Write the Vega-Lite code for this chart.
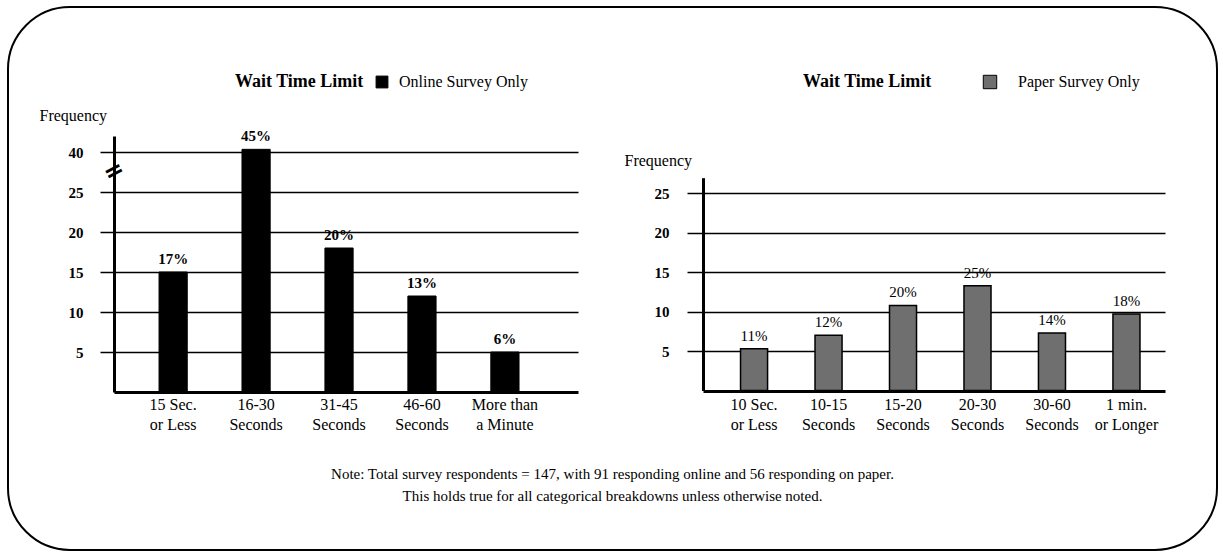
{
  "$schema": "https://vega.github.io/schema/vega-lite/v6.json",
  "width": 1209,
  "height": 543,
  "autosize": {"type": "none"},
  "padding": {"left": 8, "top": 7, "right": 6, "bottom": 3},
  "background": "white",
  "view": {"stroke": "black", "strokeWidth": 2, "cornerRadius": 62, "fill": "white"},
  "title": {
    "text": ["Note:  Total survey respondents = 147, with 91 responding online and 56 responding on paper.", "This holds true for all categorical breakdowns unless otherwise noted."],
    "orient": "bottom",
    "frame": "group",
    "anchor": "middle",
    "offset": -83,
    "baseline": "top",
    "font": "Liberation Serif",
    "fontSize": 15,
    "fontWeight": "normal",
    "lineHeight": 22,
    "color": "black"
  },
  "datasets": {
    "online": [
      {"wait": "15 Sec.\nor Less", "frequency": 15, "pct": "17%", "survey": "Online Survey  Only"},
      {"wait": "16-30\nSeconds", "frequency": 41, "pct": "45%", "survey": "Online Survey  Only"},
      {"wait": "31-45\nSeconds", "frequency": 18, "pct": "20%", "survey": "Online Survey  Only"},
      {"wait": "46-60\nSeconds", "frequency": 12, "pct": "13%", "survey": "Online Survey  Only"},
      {"wait": "More than\na Minute", "frequency": 5, "pct": "6%", "survey": "Online Survey  Only"}
    ],
    "paper": [
      {"wait": "10 Sec.\nor Less", "frequency": 5.3, "pct": "11%", "survey": "Paper Survey  Only"},
      {"wait": "10-15\nSeconds", "frequency": 7, "pct": "12%", "survey": "Paper Survey  Only"},
      {"wait": "15-20\nSeconds", "frequency": 10.8, "pct": "20%", "survey": "Paper Survey  Only"},
      {"wait": "20-30\nSeconds", "frequency": 13.3, "pct": "25%", "survey": "Paper Survey  Only"},
      {"wait": "30-60\nSeconds", "frequency": 7.3, "pct": "14%", "survey": "Paper Survey  Only"},
      {"wait": "1 min.\nor Longer", "frequency": 9.7, "pct": "18%", "survey": "Paper Survey  Only"}
    ],
    "axisbreak": [
      {"at": "15 Sec.\nor Less", "frequency": 32.5, "symbol": "="}
    ]
  },
  "layer": [
    {
      "data": {"name": "online"},
      "encoding": {
        "x": {
          "field": "wait", "type": "nominal",
          "scale": {
            "domain": ["15 Sec.\nor Less", "16-30\nSeconds", "31-45\nSeconds", "46-60\nSeconds", "More than\na Minute"],
            "range": [106, 570], "paddingInner": 0.66, "paddingOuter": 0.627, "align": 0.433
          },
          "axis": {
            "orient": "bottom", "offset": -158, "title": null, "ticks": false, "grid": false,
            "labelAngle": 0, "labelExpr": "split(datum.label, '\\n')", "labelLineHeight": 20,
            "labelFontSize": 16, "labelPadding": 4, "labelBaseline": "top",
            "domainWidth": 3, "domainColor": "black", "labelColor": "black"
          }
        },
        "y": {
          "field": "frequency", "type": "quantitative",
          "scale": {"domain": [0, 25, 40, 46], "range": [385, 185, 145, 129], "nice": false, "zero": false},
          "axis": {
            "orient": "left", "offset": -106, "values": [5, 10, 15, 20, 25, 40],
            "title": "Frequency", "titleAngle": 0, "titleX": -75, "titleY": 108, "titleAlign": "left", "titleBaseline": "middle",
            "titleFontSize": 16, "titleFontWeight": "normal", "titleColor": "black",
            "tickSize": 14, "tickWidth": 1.5, "tickColor": "black",
            "grid": true, "gridColor": "black", "gridWidth": 1.5, "gridOpacity": 1,
            "domainWidth": 3, "domainColor": "black",
            "labelFontSize": 15, "labelFontWeight": "bold", "labelPadding": 17, "labelColor": "black"
          }
        }
      },
      "layer": [
        {
          "mark": {"type": "bar", "stroke": "black", "strokeWidth": 1},
          "encoding": {
            "fill": {
              "field": "survey", "type": "nominal",
              "scale": {"domain": ["Online Survey  Only"], "range": ["black"]},
              "legend": {
                "title": "Wait Time Limit", "orient": "none", "legendX": 227, "legendY": 67,
                "titleOrient": "left", "direction": "horizontal", "titlePadding": 10,
                "titleFont": "Liberation Serif", "titleFontSize": 18, "titleFontWeight": "bold", "titleColor": "black",
                "symbolType": "square", "symbolSize": 140, "symbolStrokeColor": "black", "symbolStrokeWidth": 1,
                "labelFont": "Liberation Serif", "labelFontSize": 16, "labelOffset": 9, "labelColor": "black"
              }
            }
          }
        },
        {
          "mark": {"type": "text", "baseline": "bottom", "align": "center", "dy": -5, "fontSize": 15, "font": "Liberation Serif", "fontWeight": "bold", "color": "black"},
          "encoding": {"text": {"field": "pct", "type": "nominal"}}
        },
        {
          "data": {"name": "axisbreak"},
          "mark": {"type": "text", "align": "center", "baseline": "middle", "dx": -52, "dy": -28, "angle": -28, "fontSize": 24, "font": "DejaVu Sans", "fontWeight": "bold", "color": "black"},
          "encoding": {
            "x": {"field": "at", "type": "nominal"},
            "y": {"field": "frequency", "type": "quantitative"},
            "text": {"field": "symbol", "type": "nominal"}
          }
        }
      ]
    },
    {
      "data": {"name": "paper"},
      "encoding": {
        "x": {
          "field": "wait", "type": "nominal",
          "scale": {
            "domain": ["10 Sec.\nor Less", "10-15\nSeconds", "15-20\nSeconds", "20-30\nSeconds", "30-60\nSeconds", "1 min.\nor Longer"],
            "range": [695, 1157], "paddingInner": 0.637, "paddingOuter": 0.42, "align": 0.6
          },
          "axis": {
            "orient": "bottom", "offset": -159, "title": null, "ticks": false, "grid": false,
            "labelAngle": 0, "labelExpr": "split(datum.label, '\\n')", "labelLineHeight": 20,
            "labelFontSize": 16, "labelPadding": 5, "labelBaseline": "top",
            "domainWidth": 3, "domainColor": "black", "labelColor": "black"
          }
        },
        "y": {
          "field": "frequency", "type": "quantitative",
          "scale": {"domain": [0, 27], "range": [383.5, 170.7], "nice": false, "zero": false},
          "axis": {
            "orient": "left", "offset": -695, "values": [5, 10, 15, 20, 25],
            "title": "Frequency", "titleAngle": 0, "titleX": -79, "titleY": 153, "titleAlign": "left", "titleBaseline": "middle",
            "titleFontSize": 16, "titleFontWeight": "normal", "titleColor": "black",
            "tickSize": 16, "tickWidth": 1.5, "tickColor": "black",
            "grid": true, "gridColor": "black", "gridWidth": 1.5, "gridOpacity": 1,
            "domainWidth": 3, "domainColor": "black",
            "labelFontSize": 15, "labelFontWeight": "bold", "labelPadding": 18, "labelColor": "black"
          }
        }
      },
      "layer": [
        {
          "mark": {"type": "bar", "stroke": "black", "strokeWidth": 1.5},
          "encoding": {
            "fill": {
              "field": "survey", "type": "nominal",
              "scale": {"domain": ["Paper Survey  Only"], "range": ["#6f6f6f"]},
              "legend": {
                "title": "Wait Time Limit", "orient": "none", "legendX": 795, "legendY": 67,
                "titleOrient": "left", "direction": "horizontal", "titlePadding": 50,
                "titleFont": "Liberation Serif", "titleFontSize": 18, "titleFontWeight": "bold", "titleColor": "black",
                "symbolType": "square", "symbolSize": 180, "symbolStrokeColor": "black", "symbolStrokeWidth": 1,
                "labelFont": "Liberation Serif", "labelFontSize": 16, "labelOffset": 20, "labelColor": "black"
              }
            }
          }
        },
        {
          "mark": {"type": "text", "baseline": "bottom", "align": "center", "dy": -5, "fontSize": 15, "font": "Liberation Serif", "color": "black"},
          "encoding": {"text": {"field": "pct", "type": "nominal"}}
        }
      ]
    }
  ],
  "resolve": {
    "scale": {"x": "independent", "y": "independent", "fill": "independent"},
    "axis": {"x": "independent", "y": "independent"},
    "legend": {"fill": "independent"}
  },
  "config": {
    "font": "Liberation Serif",
    "axis": {"labelFont": "Liberation Serif", "titleFont": "Liberation Serif"},
    "legend": {"labelFont": "Liberation Serif", "titleFont": "Liberation Serif"}
  }
}
